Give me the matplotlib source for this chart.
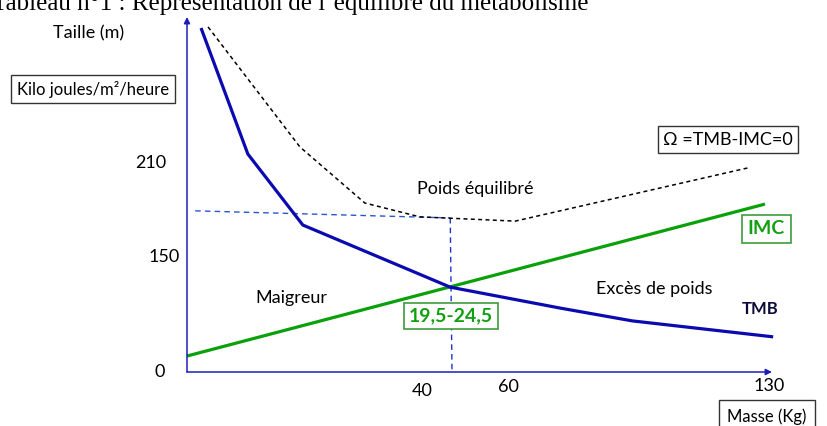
import matplotlib.pyplot as plt

# schematic units: x 0..100 along the mass axis, y 0..100 up the vertical axis
tmb_x = [2.4, 10.4, 19.8, 45.0, 63.8, 76.1, 100.2]
tmb_y = [96.9, 61.4, 41.4, 23.9, 18.0, 14.4, 9.9]
imc_x = [0, 98.8]
imc_y = [4.5, 47.3]
omega_x = [3.6, 19.3, 30.4, 39.8, 56.1, 95.9]
omega_y = [97.2, 63.4, 47.6, 43.7, 42.5, 57.5]
ref_h_x = [1.4, 45.0]
ref_h_y = [45.4, 43.4]
ref_v_x = [45.0, 45.3]
ref_v_y = [43.4, 0]

y_tick_labels = ["0", "150", "210"]
x_tick_labels = ["40", "60", "130"]

plt.rcParams['font.family'] = ['Lato', 'DejaVu Sans']

W, H = 828, 426
fig = plt.figure(figsize=(W / 100, H / 100), dpi=100)
# axes box = plot area (origin at px 187,372 ; top-right at px 772,17)
ax = fig.add_axes([187 / W, (H - 372) / H, 585 / W, 355 / H])
ax.set_xlim(0, 100)
ax.set_ylim(0, 100)
ax.axis('off')

axis_blue = '#1c1cb8'
ax.annotate('', xy=(100, 0), xytext=(0, 0),
            arrowprops=dict(arrowstyle='-|>', color=axis_blue, lw=1.1, mutation_scale=9,
                            shrinkA=0, shrinkB=0), annotation_clip=False)
ax.annotate('', xy=(0, 100), xytext=(0, 0),
            arrowprops=dict(arrowstyle='-|>', color=axis_blue, lw=1.1, mutation_scale=9,
                            shrinkA=0, shrinkB=0), annotation_clip=False)

ax.plot(ref_h_x, ref_h_y, color='#2a55d0', lw=1.0, ls=(0, (4, 3)), clip_on=False)
ax.plot(ref_v_x, ref_v_y, color='#2233cc', lw=1.0, ls=(0, (4, 3)), clip_on=False)
ax.plot(omega_x, omega_y, color='black', lw=1.1, ls=(0, (2.6, 2.2)), clip_on=False)
ax.plot(imc_x, imc_y, color='#0aa00a', lw=2.3, clip_on=False, solid_capstyle='butt')
ax.plot(tmb_x, tmb_y, color='#0a0ab0', lw=2.3, clip_on=False, solid_capstyle='butt')

fs = 13
# title (cut at top of picture)
fig.text(-8 / W, 1 - 10 / H, "Tableau n°1 : Représentation de l’équilibre du métabolisme",
         family='Liberation Serif', fontsize=18, va='baseline', ha='left')

ax.text(-16.9, 95.5, "Taille (m)", fontsize=fs, ha='center', va='center')
ax.text(-16.1, 79.7, "Kilo joules/m²/heure", fontsize=fs - 1, ha='center', va='center',
        bbox=dict(boxstyle='square,pad=0.35', fc='white', ec='#333333', lw=1))

for lab, yy, xx in zip(y_tick_labels, [0, 32.4, 58.9], [-4.6, -3.9, -6.2]):
    ax.text(xx, yy, lab, fontsize=fs, ha='center', va='center')
for lab, xx, yy in zip(x_tick_labels, [40.2, 54.9, 99.5], [-5.4, -4.2, -3.9]):
    ax.text(xx, yy, lab, fontsize=fs, ha='center', va='center')

ax.text(92.3, -12.7, "Masse (Kg)", fontsize=fs - 1, ha='left', va='center',
        bbox=dict(boxstyle='square,pad=0.5', fc='white', ec='#333333', lw=1))
ax.text(92.5, 65.4, "Ω =TMB-IMC=0", fontsize=fs, ha='center', va='center',
        bbox=dict(boxstyle='square,pad=0.3', fc='white', ec='#333333', lw=1))
ax.text(49.2, 51.5, "Poids équilibré", fontsize=fs, ha='center', va='center')
ax.text(99.0, 40.3, "IMC", fontsize=fs + 1, ha='center', va='center', color='#12a012',
        fontweight='bold',
        bbox=dict(boxstyle='square,pad=0.3', fc='white', ec='#3c9c3c', lw=1.2))
ax.text(17.8, 20.8, "Maigreur", fontsize=fs, ha='center', va='center')
ax.text(79.8, 23.4, "Excès de poids", fontsize=fs, ha='center', va='center')
ax.text(97.9, 17.7, "TMB", fontsize=fs - 1, ha='center', va='center', color='#0c0c3a',
        fontweight='bold')
ax.text(45.1, 15.8, "19,5-24,5", fontsize=fs + 1, ha='center', va='center', color='#12a012',
        fontweight='bold',
        bbox=dict(boxstyle='square,pad=0.25', fc='white', ec='#3c9c3c', lw=1.2))

fig.savefig('out.png', dpi=100)
